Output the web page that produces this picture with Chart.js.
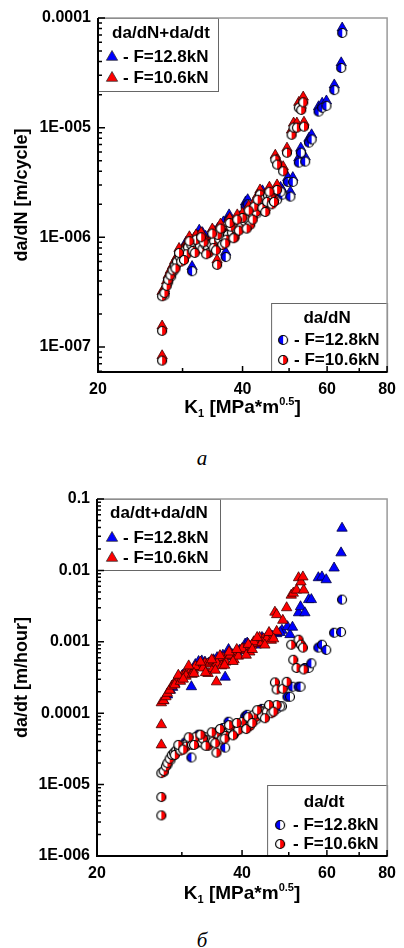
<!DOCTYPE html>
<html>
<head>
<meta charset="utf-8">
<script src="https://cdn.jsdelivr.net/npm/chart.js@4.4.1/dist/chart.umd.min.js"></script>
<style>
  body { margin: 0; background: #fff; }
  #wrap { position: relative; width: 404px; height: 948px; overflow: hidden; }
  canvas { position: absolute; left: 0; }
  #chartA { top: 0; }
  #chartB { top: 470px; }
  .cap { position: absolute; left: 0; width: 404px; text-align: center; line-height: 22px;
         font: italic 21px "Liberation Serif", "Times New Roman", serif; }
</style>
</head>
<body>
<div id="wrap">
  <canvas id="chartA" width="404" height="430"></canvas>
  <div class="cap" style="top:446px;">а</div>
  <canvas id="chartB" width="404" height="440"></canvas>
  <div class="cap" style="top:928px;">б</div>
</div>
<script>
// K1, MPa*m^0.5
const kBlue = [27.5, 28.0, 28.7, 29.4, 30.1, 31.4, 32.0, 33.0, 34.1, 34.9,
  36.9, 36.1, 37.5, 38.2, 39.0, 40.6, 41.4, 42.2, 43.5, 44.7,
  46.2, 47.2, 48.4, 49.7, 50.3, 50.9, 52.4, 52.9, 54.0, 55.0,
  55.7, 57.6, 58.6, 59.8, 62.1, 64.2, 64.5,
  28.4, 29.0, 31.0, 33.5, 35.5, 37.0, 39.5, 42.8, 45.5, 48.0,
  30.5, 32.5, 36.5, 41.0, 44.0];
const kRed = [27.2, 27.2, 27.2, 27.5, 27.8, 28.0, 28.3, 28.6, 28.9, 29.2,
  29.6, 30.0, 30.4, 30.8, 31.3, 31.7, 32.2, 32.6, 33.0, 33.5,
  33.9, 34.4, 35.4, 34.9, 35.8, 36.5, 37.3, 38.0, 38.8, 39.8,
  40.4, 41.1, 41.9, 42.7, 43.5, 43.5, 44.3, 45.2, 45.8, 47.2,
  46.8, 47.2, 48.6, 49.5, 50.6, 51.1, 51.9, 53.7, 52.4, 53.0, 53.5,
  29.0, 29.8, 30.6, 31.5, 32.0, 33.2, 34.0, 34.8, 35.5, 36.3,
  37.0, 37.8, 38.5, 39.3, 40.0, 41.5, 42.3, 44.0, 45.0, 46.0,
  29.5, 30.2, 31.0, 31.8, 32.8, 33.6, 34.6, 35.2, 36.0, 36.8,
  37.6, 38.3, 39.0, 40.8, 41.2, 42.0, 43.0, 44.6, 45.5, 46.5];

// chart a: da/dN (circles) and da/dN+da/dt (triangles), m/cycle
const dadnBlue = [2.95e-7, 3.9e-7, 4.9e-7, 6.0e-7, 7.0e-7, 4.9e-7, 8.7e-7, 1.0e-6, 8.9e-7, 1.02e-6,
  6.6e-7, 9.6e-7, 1.45e-6, 1.1e-6, 1.3e-6, 1.9e-6, 1.6e-6, 1.8e-6, 1.87e-6, 2.05e-6,
  2.2e-6, 2.2e-6, 2.45e-6, 3.2e-6, 2.35e-6, 3.2e-6, 4.8e-6, 5.9e-6, 4.9e-6, 7.3e-6,
  7.8e-6, 1.4e-5, 1.52e-5, 1.58e-5, 2.2e-5, 3.5e-5, 7.3e-5,
  4.4e-7, 5.5e-7, 7.8e-7, 9.3e-7, 1.1e-6, 1.15e-6, 1.4e-6, 1.65e-6, 2.3e-6, 2.6e-6,
  8.2e-7, 1.05e-6, 1.25e-6, 2.0e-6, 2.4e-6];
const sumNBlue = [3.25e-7, 4.3e-7, 5.4e-7, 6.6e-7, 7.7e-7, 5.4e-7, 9.6e-7, 1.1e-6, 9.8e-7, 1.13e-6,
  7.3e-7, 1.06e-6, 1.6e-6, 1.22e-6, 1.43e-6, 2.1e-6, 1.75e-6, 2.0e-6, 2.05e-6, 2.25e-6,
  2.45e-6, 2.45e-6, 2.7e-6, 3.5e-6, 2.6e-6, 3.5e-6, 5.3e-6, 6.5e-6, 5.4e-6, 8.0e-6,
  8.6e-6, 1.55e-5, 1.67e-5, 1.75e-5, 2.45e-5, 3.9e-5, 8.1e-5,
  4.85e-7, 6.05e-7, 8.6e-7, 1.02e-6, 1.2e-6, 1.27e-6, 1.54e-6, 1.8e-6, 2.5e-6, 2.85e-6,
  9.0e-7, 1.16e-6, 1.38e-6, 2.2e-6, 2.65e-6];
const dadnRed = [7.5e-8, 1.4e-7, 2.9e-7, 3.1e-7, 3.6e-7, 4.1e-7, 4.5e-7, 5.0e-7, 5.5e-7, 6.0e-7,
  6.6e-7, 7.0e-7, 7.6e-7, 8.1e-7, 8.5e-7, 8.9e-7, 7.9e-7, 8.3e-7, 7.8e-7, 8.5e-7,
  8.1e-7, 8.7e-7, 5.6e-7, 9.2e-7, 9.6e-7, 1.0e-6, 1.05e-6, 1.1e-6, 1.2e-6, 1.27e-6,
  1.4e-6, 1.45e-6, 1.65e-6, 1.7e-6, 2.0e-6, 2.45e-6, 2.2e-6, 2.4e-6, 2.35e-6, 2.7e-6,
  5.1e-6, 4.6e-6, 4.0e-6, 5.9e-6, 8.6e-6, 1.0e-5, 1.0e-5, 1.02e-5, 1.52e-5, 1.45e-5, 1.7e-5,
  5.2e-7, 6.0e-7, 7.0e-7, 7.5e-7, 9.5e-7, 9.0e-7, 7.2e-7, 8.0e-7, 1.05e-6, 8.5e-7,
  9.5e-7, 1.25e-6, 1.0e-6, 1.15e-6, 1.5e-6, 1.3e-6, 1.9e-6, 1.85e-6, 2.1e-6, 2.0e-6,
  7.2e-7, 6.2e-7, 9.2e-7, 7.2e-7, 1.0e-6, 7.0e-7, 1.08e-6, 7.6e-7, 1.2e-6, 8.8e-7,
  1.35e-6, 9.8e-7, 1.45e-6, 1.2e-6, 1.75e-6, 1.45e-6, 2.2e-6, 1.7e-6, 2.6e-6, 2.1e-6];
const sumNRed = [8.3e-8, 1.55e-7, 3.2e-7, 3.4e-7, 4.0e-7, 4.5e-7, 5.0e-7, 5.5e-7, 6.1e-7, 6.6e-7,
  7.2e-7, 7.7e-7, 8.4e-7, 8.9e-7, 9.4e-7, 9.8e-7, 8.7e-7, 9.1e-7, 8.6e-7, 9.4e-7,
  8.9e-7, 9.6e-7, 6.2e-7, 1.0e-6, 1.06e-6, 1.1e-6, 1.15e-6, 1.2e-6, 1.32e-6, 1.4e-6,
  1.55e-6, 1.6e-6, 1.8e-6, 1.85e-6, 2.2e-6, 2.7e-6, 2.4e-6, 2.65e-6, 2.6e-6, 3.0e-6,
  5.6e-6, 5.1e-6, 4.4e-6, 6.5e-6, 9.5e-6, 1.1e-5, 1.1e-5, 1.12e-5, 1.7e-5, 1.6e-5, 1.9e-5,
  5.7e-7, 6.6e-7, 7.7e-7, 8.3e-7, 1.05e-6, 1.0e-6, 7.9e-7, 8.8e-7, 1.15e-6, 9.4e-7,
  1.05e-6, 1.38e-6, 1.1e-6, 1.27e-6, 1.65e-6, 1.43e-6, 2.1e-6, 2.05e-6, 2.3e-6, 2.2e-6,
  7.9e-7, 6.8e-7, 1.01e-6, 7.9e-7, 1.1e-6, 7.7e-7, 1.19e-6, 8.4e-7, 1.32e-6, 9.7e-7,
  1.49e-6, 1.08e-6, 1.6e-6, 1.32e-6, 1.93e-6, 1.6e-6, 2.42e-6, 1.87e-6, 2.86e-6, 2.31e-6];

// chart б: da/dt (circles) and da/dt+da/dN (triangles), m/hour
const dadtBlue = [1.5e-5, 1.9e-5, 2.5e-5, 3.0e-5, 3.4e-5, 2.4e-5, 4.2e-5, 4.8e-5, 4.4e-5, 5.0e-5,
  3.3e-5, 4.9e-5, 7.6e-5, 5.8e-5, 6.5e-5, 9.0e-5, 8.0e-5, 8.8e-5, 9.2e-5, 1.0e-4,
  1.1e-4, 1.15e-4, 1.25e-4, 1.7e-4, 1.7e-4, 2.35e-4, 2.35e-4, 2.35e-4, 4.3e-4, 4.3e-4,
  5.0e-4, 8.3e-4, 9.1e-4, 7.7e-4, 1.34e-3, 1.37e-3, 3.9e-3,
  2.2e-5, 2.7e-5, 3.9e-5, 4.6e-5, 5.4e-5, 5.6e-5, 7.0e-5, 8.2e-5, 1.1e-4, 1.25e-4,
  3.9e-5, 5.0e-5, 6.2e-5, 9.5e-5, 1.15e-4];
const sumTBlue = [1.5e-4, 1.8e-4, 2.3e-4, 2.9e-4, 3.4e-4, 2.35e-4, 4.8e-4, 5.4e-4, 5.0e-4, 5.6e-4,
  3.2e-4, 5.9e-4, 7.8e-4, 6.6e-4, 7.2e-4, 9.3e-4, 8.6e-4, 9.2e-4, 1.0e-3, 1.1e-3,
  1.2e-3, 1.3e-3, 1.45e-3, 1.63e-3, 1.26e-3, 1.6e-3, 2.55e-3, 3.1e-3, 2.55e-3, 3.9e-3,
  3.9e-3, 7.9e-3, 8.1e-3, 7.4e-3, 0.0108, 0.0176, 0.039,
  2.1e-4, 2.6e-4, 4.0e-4, 5.2e-4, 6.0e-4, 6.2e-4, 7.6e-4, 9.0e-4, 1.15e-3, 1.35e-3,
  3.7e-4, 5.3e-4, 6.5e-4, 9.6e-4, 1.15e-3];
const dadtRed = [3.7e-6, 6.7e-6, 1.45e-5, 1.55e-5, 1.8e-5, 2.0e-5, 2.3e-5, 2.6e-5, 2.8e-5, 3.0e-5,
  3.2e-5, 3.4e-5, 3.6e-5, 3.8e-5, 4.0e-5, 4.1e-5, 3.8e-5, 4.0e-5, 3.9e-5, 4.2e-5,
  4.1e-5, 4.3e-5, 2.8e-5, 4.5e-5, 4.7e-5, 5.0e-5, 5.3e-5, 5.6e-5, 6.0e-5, 6.5e-5,
  7.0e-5, 7.5e-5, 8.3e-5, 8.8e-5, 1.0e-4, 1.1e-4, 1.05e-4, 1.15e-4, 1.2e-4, 1.3e-4,
  2.7e-4, 2.15e-4, 2.2e-4, 2.75e-4, 9.1e-4, 5.6e-4, 4.3e-4, 4.1e-4, 1.07e-3, 9.1e-4, 8.3e-4,
  2.6e-5, 3.0e-5, 3.4e-5, 3.6e-5, 4.6e-5, 4.4e-5, 3.5e-5, 4.0e-5, 5.2e-5, 4.3e-5,
  4.8e-5, 6.2e-5, 5.1e-5, 5.8e-5, 7.5e-5, 6.6e-5, 9.5e-5, 9.3e-5, 1.05e-4, 1.0e-4,
  3.6e-5, 3.1e-5, 4.6e-5, 3.6e-5, 5.0e-5, 3.5e-5, 5.4e-5, 3.8e-5, 6.0e-5, 4.4e-5,
  6.8e-5, 4.9e-5, 7.3e-5, 6.0e-5, 8.8e-5, 7.3e-5, 1.1e-4, 8.5e-5, 1.3e-4, 1.05e-4];
const sumTRed = [3.6e-5, 6.9e-5, 1.4e-4, 1.5e-4, 1.7e-4, 1.9e-4, 2.1e-4, 2.4e-4, 2.6e-4, 2.9e-4,
  3.1e-4, 3.3e-4, 3.5e-4, 3.7e-4, 3.9e-4, 4.0e-4, 4.4e-4, 4.8e-4, 4.6e-4, 5.0e-4,
  4.9e-4, 5.2e-4, 2.75e-4, 5.4e-4, 5.7e-4, 6.0e-4, 6.3e-4, 6.6e-4, 7.0e-4, 7.6e-4,
  8.0e-4, 8.5e-4, 9.0e-4, 9.5e-4, 1.05e-3, 1.15e-3, 1.1e-3, 1.2e-3, 1.25e-3, 1.4e-3,
  2.6e-3, 2.4e-3, 2.0e-3, 3.0e-3, 4.5e-3, 4.8e-3, 5.3e-3, 5.3e-3, 7.9e-3, 6.9e-3, 8.1e-3,
  2.5e-4, 2.8e-4, 3.3e-4, 3.5e-4, 4.5e-4, 4.3e-4, 3.6e-4, 4.2e-4, 5.0e-4, 4.6e-4,
  5.2e-4, 6.5e-4, 5.6e-4, 6.3e-4, 8.0e-4, 7.2e-4, 1.0e-3, 9.8e-4, 1.1e-3, 1.05e-3,
  3.4e-4, 3.0e-4, 4.6e-4, 3.6e-4, 5.2e-4, 3.7e-4, 5.6e-4, 4.0e-4, 6.4e-4, 4.7e-4,
  7.2e-4, 5.3e-4, 7.8e-4, 6.5e-4, 9.2e-4, 7.8e-4, 1.15e-3, 9.0e-4, 1.35e-3, 1.1e-3];

const xTicks = [20, 40, 60, 80];
const xMinor = [30, 50, 70];
const yTicksA = [1e-7, 1e-6, 1e-5, 1e-4];
const yLabelsA = ['1E-007', '1E-006', '1E-005', '0.0001'];
const yTicksB = [1e-6, 1e-5, 1e-4, 1e-3, 1e-2, 1e-1];
const yLabelsB = ['1E-006', '1E-005', '0.0001', '0.001', '0.01', '0.1'];
const forceLabels = ['- F=12.8kN', '- F=10.6kN'];

const BLUE = '#0000ff', RED = '#ff0000';
const FONT = '"Liberation Sans", Arial, sans-serif';

// half filled circle marker
function halfDot(color, left) {
    const c = document.createElement('canvas');
    c.width = 12; c.height = 12;
    const g = c.getContext('2d');
    const r = 4.5, m = 6;
    g.fillStyle = '#fff';
    g.beginPath(); g.arc(m, m, r, 0, Math.PI * 2); g.fill();
    g.fillStyle = color;
    g.beginPath();
    if (left) g.arc(m, m, r, Math.PI / 2, Math.PI * 1.5);
    else g.arc(m, m, r, -Math.PI / 2, Math.PI / 2);
    g.closePath(); g.fill();
    g.strokeStyle = '#000'; g.lineWidth = 1.2;
    g.beginPath(); g.arc(m, m, r, 0, Math.PI * 2); g.stroke();
    return c;
}
const dots = [halfDot(BLUE, true), halfDot(RED, false)];
const colors = [BLUE, RED];

function pts(k, v) {
    return k.map((x, i) => ({ x: x, y: v[i] }));
}

function drawTri(ctx, x, y, r, color) {
    ctx.beginPath();
    ctx.moveTo(x, y - r);
    ctx.lineTo(x + r * 0.866, y + r * 0.5);
    ctx.lineTo(x - r * 0.866, y + r * 0.5);
    ctx.closePath();
    ctx.fillStyle = color; ctx.fill();
    ctx.lineWidth = 0.8; ctx.strokeStyle = '#333'; ctx.stroke();
}

function drawLegend(ctx, L, x0, y0, kind) {
    ctx.fillStyle = '#fff';
    ctx.fillRect(x0, y0, L.w, L.h);
    ctx.strokeStyle = '#666'; ctx.lineWidth = 1;
    ctx.strokeRect(x0 + 0.5, y0 + 0.5, L.w, L.h);
    ctx.font = 'bold 17px ' + FONT;
    ctx.fillStyle = '#000';
    ctx.textAlign = 'center'; ctx.textBaseline = 'middle';
    ctx.fillText(L.title, x0 + L.titleX, y0 + L.titleY);
    ctx.textAlign = 'left';
    L.rows.forEach((ry, i) => {
        const my = y0 + ry;
        if (kind === 'tri') drawTri(ctx, x0 + L.markX, my + 1, 6.5, colors[i]);
        else ctx.drawImage(dots[i], x0 + L.markX - 6, my - 5);
        ctx.fillStyle = '#000';
        ctx.fillText(forceLabels[i], x0 + L.textX, my + 1);
    });
}

function drawKTitle(ctx, cx, baseY) {
    const big = 'bold 19px ' + FONT, small = 'bold 11px ' + FONT;
    const parts = [['K', big, 0], ['1', small, 4], [' [MPa*m', big, 0], ['0.5', small, -8], [']', big, 0]];
    let total = 0;
    parts.forEach(p => { ctx.font = p[1]; total += ctx.measureText(p[0]).width; });
    let x = cx - total / 2;
    ctx.textAlign = 'left'; ctx.textBaseline = 'alphabetic'; ctx.fillStyle = '#000';
    parts.forEach(p => {
        ctx.font = p[1];
        ctx.fillText(p[0], x, baseY + p[2]);
        x += ctx.measureText(p[0]).width;
    });
}

const framePlugin = {
    id: 'frame',
    afterDatasetsDraw(chart, args, o) {
        const ctx = chart.ctx, a = chart.chartArea;
        const xs = chart.scales.x, ys = chart.scales.y;
        ctx.save();
        drawLegend(ctx, o.tl, a.left, a.top, 'tri');
        drawLegend(ctx, o.br, a.right - o.br.w, a.bottom - o.br.h, 'dot');

        // frame: grey top/right, black left/bottom
        ctx.strokeStyle = '#9a9a9a'; ctx.lineWidth = 1.5;
        ctx.beginPath();
        ctx.moveTo(a.left, a.top); ctx.lineTo(a.right, a.top); ctx.lineTo(a.right, a.bottom);
        ctx.stroke();
        ctx.strokeStyle = '#000'; ctx.lineWidth = 2;
        ctx.beginPath();
        ctx.moveTo(a.left, a.top); ctx.lineTo(a.left, a.bottom); ctx.lineTo(a.right, a.bottom);
        ctx.stroke();

        // inward ticks
        ctx.lineWidth = 1.5;
        ctx.beginPath();
        for (let e = -9; e <= 0; e++) {
            for (let m = 1; m <= 9; m++) {
                const v = m * Math.pow(10, e);
                if (v < ys.min * 0.999 || v > ys.max * 1.001) continue;
                const py = ys.getPixelForValue(v);
                ctx.moveTo(a.left, py); ctx.lineTo(a.left + (m === 1 ? 7 : 4), py);
            }
        }
        xTicks.concat(xMinor).forEach(v => {
            const px = xs.getPixelForValue(v);
            ctx.moveTo(px, a.bottom); ctx.lineTo(px, a.bottom - (xTicks.includes(v) ? 6 : 4));
        });
        ctx.stroke();

        // axis titles
        ctx.fillStyle = '#000';
        ctx.font = 'bold 18px ' + FONT;
        ctx.textAlign = 'center'; ctx.textBaseline = 'middle';
        ctx.save();
        ctx.translate(22, (a.top + a.bottom) / 2);
        ctx.rotate(-Math.PI / 2);
        ctx.fillText(o.yTitle, 0, 0);
        ctx.restore();
        drawKTitle(ctx, (a.left + a.right) / 2, a.bottom + o.xTitleDy);
        ctx.restore();
    }
};

function makeChart(id, cfg) {
    const tickFont = { family: FONT, weight: 'bold', size: 16 };
    // first dataset is painted last: red circles on top, blue triangles at the bottom
    return new Chart(document.getElementById(id), {
        type: 'scatter',
        data: {
            datasets: [
                { data: pts(kRed, cfg.circRed), pointStyle: dots[1], pointRadius: 5 },
                { data: pts(kRed, cfg.triRed), pointStyle: 'triangle', pointRadius: 6,
                  backgroundColor: RED, borderColor: '#400000', borderWidth: 0.8 },
                { data: pts(kBlue, cfg.circBlue), pointStyle: dots[0], pointRadius: 5 },
                { data: pts(kBlue, cfg.triBlue), pointStyle: 'triangle', pointRadius: 6,
                  backgroundColor: BLUE, borderColor: '#000040', borderWidth: 0.8 },
            ],
        },
        options: {
            responsive: false,
            animation: false,
            devicePixelRatio: 1,
            layout: { padding: { left: 0, right: 10, top: cfg.padTop, bottom: 0 } },
            plugins: {
                legend: { display: false },
                tooltip: { enabled: false },
                frame: cfg.frame,
            },
            scales: {
                x: {
                    type: 'logarithmic', position: 'bottom', min: 20, max: 80,
                    afterBuildTicks: s => { s.ticks = xTicks.map(v => ({ value: v })); },
                    afterFit: s => { s.height = cfg.xHeight; },
                    ticks: { callback: (v, i) => String(xTicks[i]), font: tickFont, color: '#000',
                             padding: 8, autoSkip: false, maxRotation: 0 },
                    grid: { display: false, drawTicks: false },
                    border: { display: false },
                },
                y: {
                    type: 'logarithmic', position: 'left', min: cfg.yMin, max: cfg.yMax,
                    afterBuildTicks: s => { s.ticks = cfg.yTicks.map(v => ({ value: v })); },
                    afterFit: s => { s.width = cfg.yWidth; },
                    ticks: { callback: (v, i) => cfg.yLabels[i], font: tickFont, color: '#000',
                             padding: 7, autoSkip: false },
                    grid: { display: false, drawTicks: false },
                    border: { display: false },
                },
            },
        },
        plugins: [framePlugin],
    });
}

makeChart('chartA', {
    circRed: dadnRed, circBlue: dadnBlue, triRed: sumNRed, triBlue: sumNBlue,
    yMin: 5.9e-8, yMax: 1e-4, yTicks: yTicksA, yLabels: yLabelsA,
    padTop: 18, xHeight: 58, yWidth: 98,
    frame: {
        yTitle: 'da/dN [m/cycle]', xTitleDy: 41,
        tl: { w: 120, h: 73, title: 'da/dN+da/dt', titleX: 63, titleY: 15, rows: [38, 59], markX: 14, textX: 25 },
        br: { w: 116, h: 69, title: 'da/dN', titleX: 56, titleY: 15, rows: [36, 56], markX: 12, textX: 23 },
    },
});

makeChart('chartB', {
    circRed: dadtRed, circBlue: dadtBlue, triRed: sumTRed, triBlue: sumTBlue,
    yMin: 1e-6, yMax: 0.1, yTicks: yTicksB, yLabels: yLabelsB,
    padTop: 29, xHeight: 54, yWidth: 97,
    frame: {
        yTitle: 'da/dt [m/hour]', xTitleDy: 43,
        tl: { w: 123, h: 71, title: 'da/dt+da/dN', titleX: 62, titleY: 14, rows: [38, 58], markX: 15, textX: 26 },
        br: { w: 120, h: 71, title: 'da/dt', titleX: 57, titleY: 17, rows: [39, 58], markX: 13, textX: 26 },
    },
});
</script>
</body>
</html>
